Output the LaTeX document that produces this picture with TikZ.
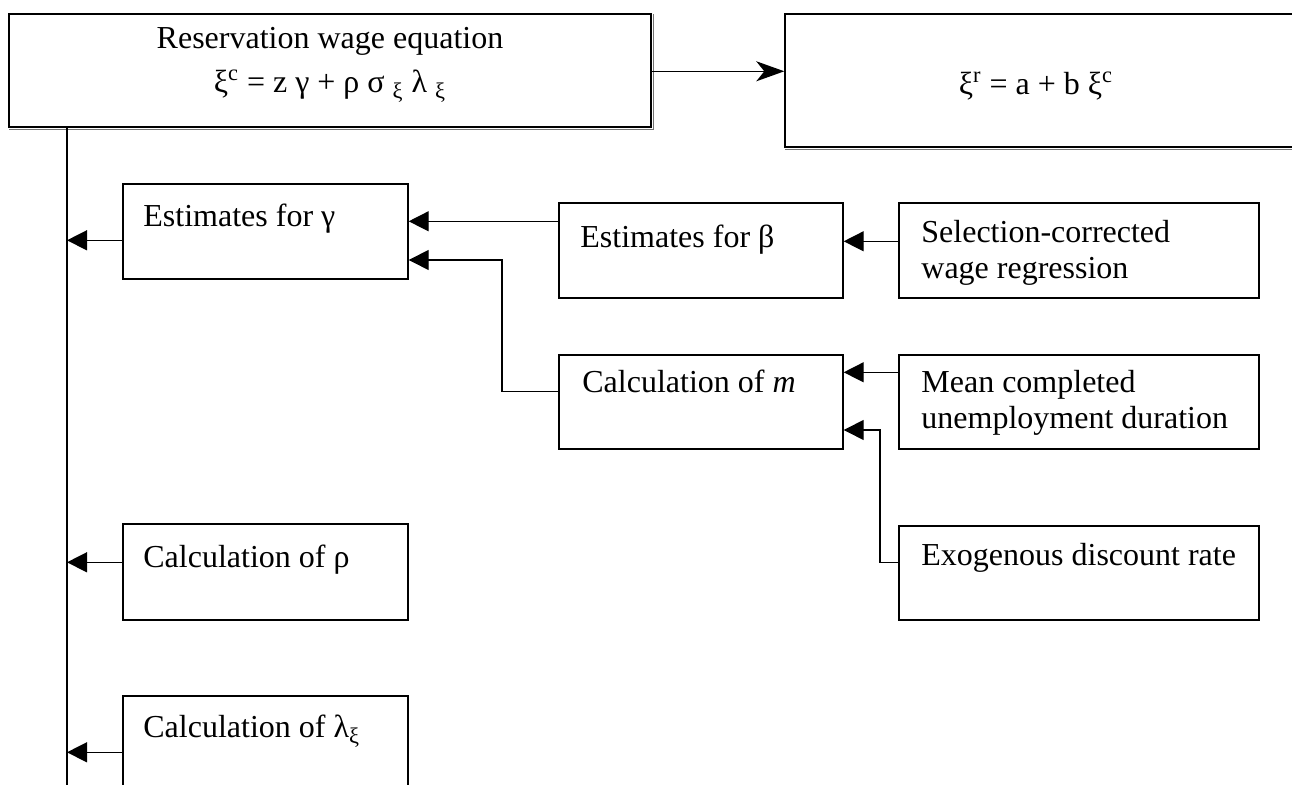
\documentclass[tikz,border=0pt]{standalone}
\usepackage{fontspec}
\setmainfont{Liberation Serif}
\usetikzlibrary{arrows.meta,calc,fit}
\begin{document}
\begin{tikzpicture}[x=0.5pt,y=-0.5pt,
  box/.style={draw,line width=0.7pt,inner sep=0pt},
  shad/.style={draw=black!55,line width=0.6pt},
  lbl/.style={anchor=base west,inner sep=0pt,align=left,font=\fontsize{16}{18}\selectfont},
  ctr/.style={anchor=base,inner sep=0pt,align=center,font=\fontsize{16}{20}\selectfont},
  conn/.style={line width=0.7pt},
  tri/.style={conn,-{Triangle[length=10pt,width=10pt]}},
  stl/.style={conn,-{Stealth[length=14pt,width=10pt,inset=4pt]}}]
\useasboundingbox (0,0) rectangle (1292,785);
\clip (0,0) rectangle (1292,785);
% boxes
\node[box,fit={(9,14) (651,127)}] (res) {};
\node[box,fit={(785,14) (1300,147)}] (xir) {};
\draw[shad] ($(res.south west)+(1,2)$) -- ($(res.south east)+(2,2)$) -- ($(res.north east)+(2,1)$);
\draw[shad] ($(xir.south west)+(1,2)$) -- ($(xir.south east)+(2,2)$);
\node[box,fit={(123,184) (408,279)}] (gam) {};
\node[box,fit={(559,203) (843,298)}] (beta) {};
\node[box,fit={(899,203) (1259,298)}] (sel) {};
\node[box,fit={(559,355) (843,449)}] (calcm) {};
\node[box,fit={(899,355) (1259,449)}] (mean) {};
\node[box,fit={(899,526) (1259,620)}] (exo) {};
\node[box,fit={(123,524) (408,620)}] (rho) {};
\node[box,fit={(123,696) (408,830)}] (lam) {};
% texts
\node[ctr] (rest) at (330,93) {Reservation wage equation\\[2pt]ξ\textsuperscript{c} = z γ + ρ σ \textsubscript{ξ} λ \textsubscript{ξ}};
\node[ctr] (xirt) at (1036,95) {ξ\textsuperscript{r} = a + b ξ\textsuperscript{c}};
\node[lbl] (gamt) at (143,227) {Estimates for γ};
\node[lbl] (betat) at (580,248) {Estimates for β};
\node[lbl] (selt) at (921,279) {Selection-corrected\\wage regression};
\node[lbl] (calcmt) at (582,393) {Calculation of \textit{m}};
\node[lbl] (meant) at (921,429) {Mean completed\\unemployment duration};
\node[lbl] (exot) at (921,566) {Exogenous discount rate};
\node[lbl] (rhot) at (143,568) {Calculation of ρ};
\node[lbl] (lamt) at (143,738) {Calculation of λ\textsubscript{ξ}};
% connectors
\coordinate (tbot) at (67,800);
\coordinate (elb1) at (502,260);
\coordinate (elb2) at (880,430);
\draw[conn] (res.south -| tbot) -- (tbot);
\coordinate (a1) at ($(res.north east)+(0,58)$);
\draw[stl] (a1) -- (a1 -| xir.west);
\coordinate (a2) at ($(gam.north west)+(0,57)$);
\draw[tri] (a2) -- (a2 -| tbot);
\coordinate (a3) at ($(rho.north west)+(0,39)$);
\draw[tri] (a3) -- (a3 -| tbot);
\coordinate (a4) at ($(lam.north west)+(0,57)$);
\draw[tri] (a4) -- (a4 -| tbot);
\coordinate (a5) at ($(beta.north west)+(0,19)$);
\draw[tri] (a5) -- (a5 -| gam.east);
\coordinate (a6) at ($(calcm.north west)+(0,37)$);
\draw[tri] (a6) -| (elb1) -- (elb1 -| gam.east);
\coordinate (a7) at ($(sel.north west)+(0,39)$);
\draw[tri] (a7) -- (a7 -| beta.east);
\coordinate (a8) at ($(mean.north west)+(0,18)$);
\draw[tri] (a8) -- (a8 -| calcm.east);
\coordinate (a9) at ($(exo.north west)+(0,37)$);
\draw[tri] (a9) -| (elb2) -- (elb2 -| calcm.east);
\end{tikzpicture}
\end{document}
